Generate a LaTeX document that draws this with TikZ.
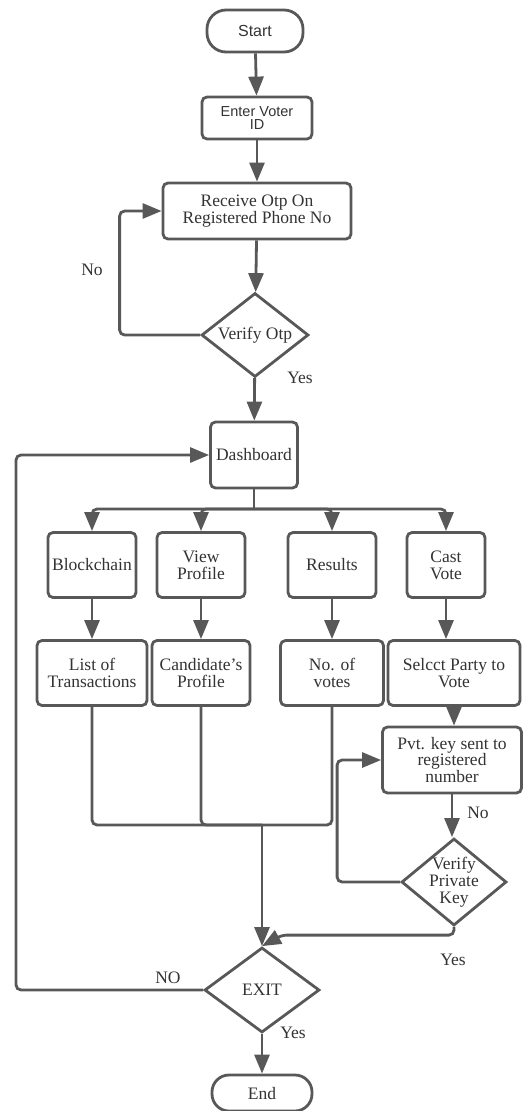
\documentclass[tikz,border=0pt]{standalone}
\usepackage{fontspec}
\usepackage{tikz}
\usetikzlibrary{positioning, arrows.meta, calc, shapes.geometric}
\setmainfont{Liberation Serif}
\newfontfamily\arialsans{Liberation Sans}
\definecolor{stroke}{HTML}{585858}
\definecolor{ink}{HTML}{333333}

\begin{document}
\begin{tikzpicture}[x=1pt, y=1pt,
        every node/.style={text=ink, font=\fontsize{17.5}{16.8}\selectfont},
        box/.style={draw=stroke, line width=2.8pt, rectangle, rounded corners=5pt,
          align=center, inner sep=1pt},
        termbox/.style={draw=stroke, line width=2.8pt, rectangle, align=center},
        decide/.style={draw=stroke, line width=2.8pt, diamond, align=center,
          inner sep=0pt, aspect=1.25},
        line/.style={draw=stroke, line width=2.8pt, rounded corners=5pt},
        arr/.style={line, -{Triangle[length=19pt, width=15pt]}},
        tag/.style={inner sep=0pt}]
      \useasboundingbox (0,0) rectangle (526,-1111);
      % top column
      \node[termbox, rounded corners=19pt, minimum width=96pt, minimum height=42pt,
        font=\arialsans\fontsize{16}{18}\selectfont] (start) at (255,-31) {Start};
      \node[box, minimum width=110pt, minimum height=42pt,
        label={[font=\arialsans\fontsize{14.5}{16}\selectfont, align=center,
          text=ink]center:\raisebox{-7pt}{\shortstack{Enter Voter\\ID}}}]
        (enter) at (257,-118) {};
      \node[box, minimum width=188pt, minimum height=56pt] (recv) at (257,-211)
        {Receive Otp On\\Registered Phone No};
      \node[decide, minimum width=107pt, minimum height=84pt] (votp) at (255,-335)
        {Verify Otp};
      \node[box, minimum width=87pt, minimum height=66pt] (dash) at (254,-455)
        {Dashboard};
      % menu row
      \node[box, minimum width=88pt, minimum height=65pt] (blk) at (92,-565) {Blockchain};
      \node[box, minimum width=88pt, minimum height=65pt] (view) at (201,-565) {View\\Profile};
      \node[box, minimum width=88pt, minimum height=65pt] (res) at (332,-565) {Results};
      \node[box, minimum width=78pt, minimum height=65pt] (cast) at (446,-565) {Cast\\Vote};
      % second row
      \node[box, minimum width=110pt, minimum height=65pt] (lst) at (92,-673) {List of\\Transactions};
      \node[box, minimum width=98pt, minimum height=65pt] (cand) at (201,-673) {Candidate's\\Profile};
      \node[box, minimum width=103pt, minimum height=65pt] (nov) at (332,-673) {No. of\\votes};
      \node[box, minimum width=132pt, minimum height=65pt] (sel) at (454,-673) {Selcct Party to\\Vote};
      \node[box, minimum width=139pt, minimum height=66pt] (pvt) at (452,-760)
        {Pvt. key sent to\\registered\\number};
      \node[decide, minimum width=105pt, minimum height=87pt,
        label={[align=center, text=ink]center:Verify\\Private\\Key}] (vpk) at (454,-882) {};
      % exit
      \node[decide, minimum width=115pt, minimum height=85pt] (exit) at (262,-990) {EXIT};
      \node[termbox, rounded corners=17pt, minimum width=100pt, minimum height=36pt]
        (endn) at (262,-1093) {End};
      \coordinate (br) at (254,-509);
      \coordinate (mrg) at (262,-825);
      \coordinate (lft) at (16,-455);

      \draw[arr] (start) -- (enter);
      \draw[arr] (enter) -- (recv);
      \draw[arr] (recv) -- (votp);
      \draw[arr] (votp) -- (dash);
      \draw[arr] (votp.west) -| ([xshift=-42pt]recv.west) -- (recv.west);
      \draw[line] (dash.south) -- (br);
      \foreach \n in {blk, view, res, cast}
        \draw[arr] (br) -| (\n.north);
      \draw[arr] (blk) -- (lst);
      \draw[arr] (view) -- (cand);
      \draw[arr] (res) -- (nov);
      \draw[arr] (cast.south) -- (cast.south |- sel.north);
      \draw[arr] (sel.south) -- (sel.south |- pvt.north);
      \draw[arr] (pvt.south) -- (pvt.south |- vpk.north);
      \draw[arr] (vpk.west) -| ([xshift=-44pt]pvt.west) -- (pvt.west);
      \foreach \n in {lst, cand, nov}
        \draw[line] (\n.south) |- (mrg);
      \draw[arr] (mrg) -- (exit.north);
      \draw[arr] (vpk.south) |- ([xshift=20pt, yshift=11pt]exit.north) -- (exit.north);
      \draw[arr] (exit.west) -| (lft) -- (dash.west);
      \draw[arr] (exit) -- (endn);

      % branch labels
      \node[tag] (lno) at (92,-270) {No};
      \node[tag] (lyes) at (300,-378) {Yes};
      \node[tag] (pno) at (478,-813) {No};
      \node[tag] (pyes) at (453,-960) {Yes};
      \node[tag] (eno) at (168,-978) {NO};
      \node[tag] (eyes) at (293,-1033) {Yes};
    \end{tikzpicture}
\end{document}
